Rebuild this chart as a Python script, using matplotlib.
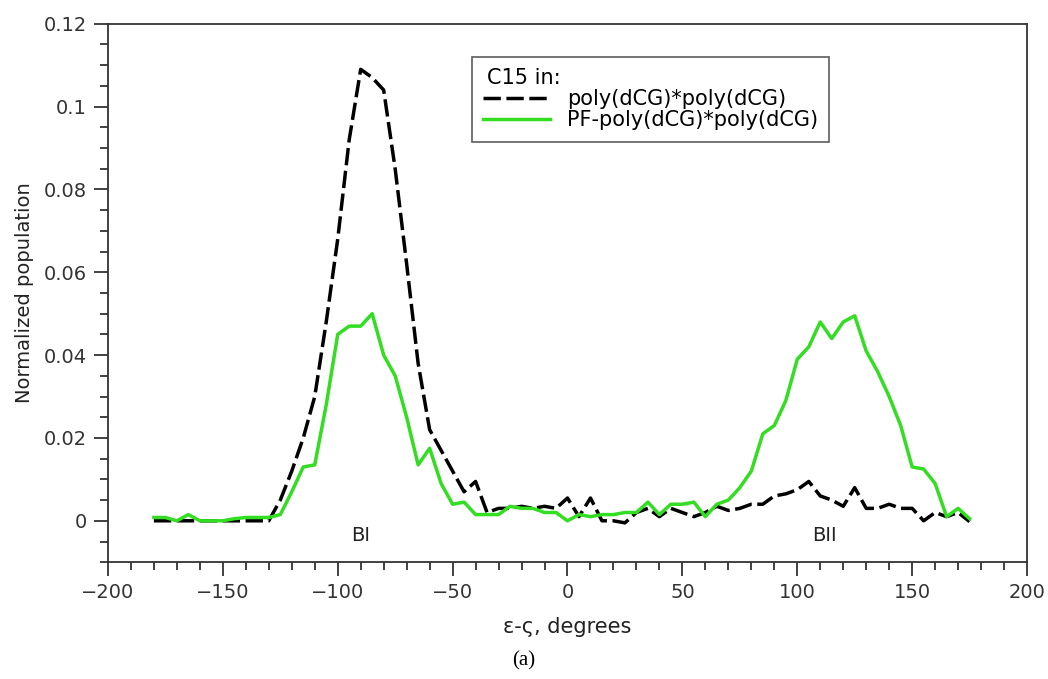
import numpy as np
import matplotlib.pyplot as plt
from matplotlib.ticker import MultipleLocator

plt.rcParams['font.family'] = ['DejaVu Sans']

# Torsion angle bins (degrees)
angles = np.arange(-180, 180, 5)

# C15 in poly(dCG)*poly(dCG)
pop_dcg = [0, 0, 0, 0, 0, 0, 0, 0, 0, 0,
           0, 0.005, 0.012, 0.02, 0.030, 0.048, 0.068, 0.092, 0.109, 0.107,
           0.104, 0.085, 0.062, 0.038, 0.022, 0.017, 0.012, 0.007, 0.0095, 0.002,
           0.003, 0.003, 0.0035, 0.003, 0.0035, 0.003, 0.0055, 0.001, 0.0055, 0,
           0, -0.0005, 0.002, 0.003, 0.001, 0.003, 0.002, 0.001, 0.002, 0.0035,
           0.0025, 0.003, 0.004, 0.004, 0.006, 0.0065, 0.0075, 0.0095, 0.006, 0.005,
           0.0035, 0.008, 0.003, 0.003, 0.004, 0.003, 0.003, 0, 0.002, 0.001,
           0.002, -0.0002]

# C15 in PF-poly(dCG)*poly(dCG)
pop_pf = [0.0008, 0.0008, 0, 0.0015, 0, 0, 0, 0.0005, 0.0008, 0.0008,
          0.0008, 0.0015, 0.007, 0.013, 0.0135, 0.028, 0.045, 0.047, 0.047, 0.050,
          0.040, 0.035, 0.025, 0.0135, 0.0175, 0.009, 0.004, 0.0045, 0.0015, 0.0015,
          0.0015, 0.0035, 0.003, 0.003, 0.002, 0.002, 0, 0.0015, 0.001, 0.0015,
          0.0015, 0.002, 0.002, 0.0045, 0.0015, 0.004, 0.004, 0.0045, 0.001, 0.004,
          0.005, 0.008, 0.012, 0.021, 0.023, 0.029, 0.039, 0.042, 0.048, 0.044,
          0.048, 0.0495, 0.041, 0.036, 0.030, 0.023, 0.013, 0.0125, 0.009, 0.001,
          0.003, 0.0005]

fig = plt.figure(figsize=(10.48, 6.79), dpi=100)
ax = fig.add_axes([0.103, 0.172, 0.877, 0.793])

ax.plot(angles, pop_dcg, color='black', linewidth=2.5, dashes=(5, 1.6),
        label='poly(dCG)*poly(dCG)')
ax.plot(angles, pop_pf, color='#33dd22', linewidth=2.5,
        label='PF-poly(dCG)*poly(dCG)')

ax.set_xlim(-200, 200)
ax.set_ylim(-0.01, 0.12)
ax.xaxis.set_minor_locator(MultipleLocator(10))
ax.yaxis.set_minor_locator(MultipleLocator(0.005))
ax.set_yticks(np.arange(0, 0.121, 0.02))
ax.set_yticklabels(['0', '0.02', '0.04', '0.06', '0.08', '0.1', '0.12'])
ax.set_xticks(np.arange(-200, 201, 50))
ax.set_xticklabels(['\u2212200', '\u2212150', '\u2212100', '\u221250', '0', '50', '100', '150', '200'])

ax.tick_params(which='both', direction='out', top=False, right=False,
               colors='#333333', labelsize=14, width=1.3)
ax.tick_params(which='major', length=10, pad=5)
ax.tick_params(which='minor', length=6)
for s in ax.spines.values():
    s.set_color('#333333')
    s.set_linewidth(1.3)

ax.set_xlabel('\u03b5-\u03c2, degrees', fontsize=15, color='#222222', labelpad=11)
ax.set_ylabel('Normalized population', fontsize=14, color='#222222', labelpad=7)

ax.text(-90, -0.0035, 'BI', fontsize=14, ha='center', va='center', color='#222222')
ax.text(112, -0.0035, 'BII', fontsize=14, ha='center', va='center', color='#222222')

leg = ax.legend(title='C15 in:', loc='upper left', bbox_to_anchor=(0.396, 0.939),
                fontsize=15, title_fontsize=15, frameon=True, fancybox=False,
                handlelength=3.2, borderpad=0.55, labelspacing=0.05, handletextpad=0.8,
                borderaxespad=0)
leg._legend_box.align = 'left'
leg.get_title().set_position((4, 0))
leg.get_frame().set_edgecolor('#333333')
leg.get_frame().set_linewidth(1.2)

fig.text(0.5, 0.02, '(a)', family='Liberation Serif', fontsize=15, ha='center')

fig.savefig('out.png', dpi=100)
